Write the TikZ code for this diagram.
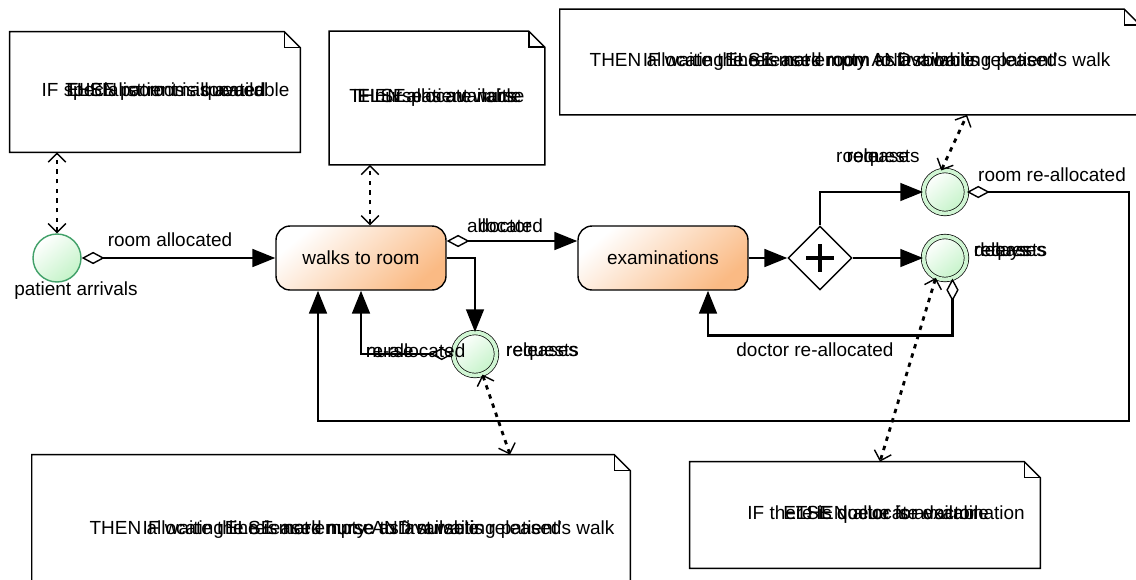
\documentclass[tikz,border=0pt]{standalone}
\usepackage{fontspec}
\setmainfont{Liberation Sans}
\usetikzlibrary{arrows.meta,shapes.geometric,calc}

\definecolor{taskorange}{RGB}{250,186,132}
\definecolor{eventgreen}{RGB}{196,243,200}
\definecolor{eventborder}{RGB}{64,160,104}

% note with folded corner, drawn around a named node
\newcommand{\notebox}[1]{%
  \draw[thick] (#1.south west) -- (#1.north west) -- ($(#1.north east)+(-16,0)$)
    -- ($(#1.north east)+(0,16)$) -- (#1.south east) -- cycle;
  \draw[thick] ($(#1.north east)+(-16,0)$) -- ($(#1.north east)+(-16,16)$)
    -- ($(#1.north east)+(0,16)$);}
\newcommand{\stacked}[1]{\makebox[0pt]{#1}}

\begin{document}
\begin{tikzpicture}[x=0.02cm,y=-0.02cm,
  font=\fontsize{10.8}{13}\selectfont,
  task/.style={draw,thick,rounded corners=8pt,minimum width=3.4cm,minimum height=1.28cm,
    top color=white,bottom color=taskorange,shading angle=40},
  startev/.style={circle,draw=eventborder,thick,minimum size=0.96cm,inner sep=0pt,
    top color=white,bottom color=eventgreen,shading angle=40},
  interev/.style={circle,draw=black,double=eventgreen!80,double distance=2.2pt,
    minimum size=0.86cm,inner sep=0pt,top color=white,bottom color=eventgreen,shading angle=40},
  gate/.style={diamond,draw,thick,fill=white,minimum width=1.28cm,minimum height=1.28cm,inner sep=0pt},
  note/.style={inner sep=0pt},
  flow/.style={line width=1.6pt,-{Triangle[length=13pt,width=10pt]}},
  flowd/.style={line width=1.6pt,{Diamond[open,length=13pt,width=7pt,line width=0.8pt]}-{Triangle[length=13pt,width=10pt]}},
  assoc/.style={line width=1.6pt,dash pattern=on 2.5pt off 3pt,
    {Straight Barb[length=5pt,width=10pt,line width=0.8pt]}-{Straight Barb[length=5pt,width=10pt,line width=0.8pt]}}]

\useasboundingbox (0,0) rectangle (1136,579);

% notes
\node[note,minimum width=5.8cm,minimum height=2.4cm] (note1) at (155,92)
  {\hspace*{12pt}\stacked{IF specialist room is available}\stacked{THEN room is allocated}\stacked{ELSE patient is queued}};
\node[note,minimum width=4.3cm,minimum height=2.66cm] (note2) at (437,98)
  {\stacked{IF nurse is available}\stacked{THEN allocate nurse}\stacked{ELSE patient waits}};
\node[note,minimum width=11.6cm,minimum height=2.1cm] (note3) at (850,62)
  {\stacked{THEN allocate the released room to first waiting patient's walk}\stacked{IF waiting line is not empty AND room is released}\stacked{ELSE mark room as available}};
\node[note,minimum width=11.96cm,minimum height=3cm] (note4) at (331,530)
  {\hspace*{24pt}\stacked{THEN allocate the released nurse to first waiting patient's walk}\stacked{IF waiting line is not empty AND nurse is released}\stacked{ELSE mark nurse as available}};
\node[note,minimum width=7cm,minimum height=2.12cm] (note5) at (865,515)
  {\hspace*{24pt}\stacked{IF there is queue for examination}\stacked{THEN allocate doctor}\stacked{ELSE doctor is available}};
\notebox{note1}
\notebox{note2}
\notebox{note3}
\notebox{note4}
\notebox{note5}

% events, tasks, gateway
\node[startev] (start) at (57,258) {};
\node (startlbl) at (76,291) {patient arrivals};
\node[task] (walks) at (361,258) {walks to room};
\node[task] (exams) at (663,258) {examinations};
\node[gate] (gate) at (820,258) {};
\draw[line width=2.6pt] ($(gate.center)+(-14,0)$) -- ($(gate.center)+(14,0)$);
\draw[line width=2.6pt] ($(gate.center)+(0,-14)$) -- ($(gate.center)+(0,14)$);
\node[interev] (evroom) at (945,192) {};
\node[interev] (evdoc) at (945,258) {};
\node[interev] (evnurse) at (475,354) {};

% sequence flows
\draw[flowd] (start.east) -- (walks.west);
\draw[flowd] ($(walks.east)+(0,-17)$) -- ($(exams.west)+(0,-17)$);
\draw[flow] (walks.east) -| (evnurse.north);
\draw[flowd] (evnurse.west) -| (walks.south);
\draw[flow] (exams.east) -- (gate.west);
\draw[flow] (gate.north) |- (evroom.west);
\draw[flow] (gate.east) -- (evdoc.west);
\draw[flowd] (evdoc.-70) |- ($(exams.south)+(45,45)$) -- ($(exams.south)+(45,0)$);
\draw[flowd] (evroom.east) -| (1129,421) -| ($(walks.south)+(-43,0)$);

% associations
\draw[assoc] (start.north) -- (start.north |- note1.south);
\draw[assoc] ($(walks.north)+(9,0)$) -- ($(note2.south)+(-67,0)$);
\draw[assoc] (evroom.100) -- ($(note3.south)+(117,0)$);
\draw[assoc] (evnurse.-70) -- ($(note4.north)+(179,0)$);
\draw[assoc] (evdoc.-115) -- ($(note5.north)+(15,0)$);

% labels
\node (lblroom) at (170,240) {room allocated};
\node (lbldoc) at (505,226) {\stacked{allocated}\stacked{doctor}};
\node[anchor=west] (lblnurse) at (360,351) {\rlap{nurse}re-allocated};
\node[anchor=west] (lblnurseev) at (500,352) {\rlap{releases}requests};
\node[anchor=west] (lblroomev1) at (830,158) {\rlap{room}\rlap{\hspace{6pt}requests}\hspace{6pt}release};
\node[anchor=south west] (lblroomre) at (972,188) {room re-allocated};
\node[anchor=west] (lbldocev) at (968,252) {\rlap{releases}\rlap{requests}delays};
\node (lbldocre) at (815,350) {doctor re-allocated};

\end{tikzpicture}
\end{document}
